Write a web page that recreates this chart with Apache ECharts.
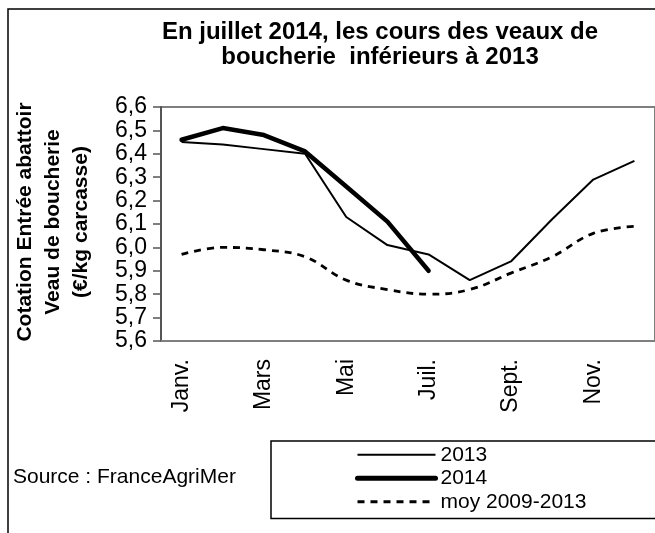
<!DOCTYPE html>
<html>
<head>
<meta charset="utf-8">
<script src="https://cdn.jsdelivr.net/npm/echarts@6/dist/echarts.min.js"></script>
<style>
  html, body { margin: 0; padding: 0; background: #fff; }
  #chart { width: 655px; height: 533px; }
</style>
</head>
<body>
<div id="chart"></div>
<script>
const months = ['Janv.', 'Févr.', 'Mars', 'Avr.', 'Mai', 'Juin', 'Juil.', 'Août', 'Sept.', 'Oct.', 'Nov.', 'Déc.']
const values2013 = [6.45, 6.44, 6.42, 6.40, 6.13, 6.01, 5.97, 5.86, 5.94, 6.12, 6.29, 6.37]
const values2014 = [6.46, 6.51, 6.48, 6.41, 6.26, 6.11, 5.90]
const valuesMoy = [5.97, 6.00, 5.99, 5.96, 5.86, 5.82, 5.80, 5.82, 5.89, 5.96, 6.06, 6.09]

const font = "'Liberation Sans', Arial, sans-serif"

const chart = echarts.init(document.getElementById('chart'))

chart.setOption({
  animation: false,
  textStyle: { fontFamily: font, color: '#000' },
  title: {
    text: 'En juillet 2014, les cours des veaux de\nboucherie  inférieurs à 2013',
    left: 380,
    top: 20,
    textAlign: 'center',
    padding: 0,
    textStyle: { fontFamily: font, fontSize: 24, fontWeight: 'bold', lineHeight: 25, color: '#000' }
  },
  graphic: [
    {
      type: 'rect',
      shape: { x: 8, y: 9, width: 900, height: 700 },
      style: { fill: 'none', stroke: '#000', lineWidth: 1.5 },
      z: -1
    },
    {
      type: 'text',
      x: 53,
      y: 222,
      rotation: Math.PI / 2,
      style: {
        text: 'Cotation Entrée abattoir\nVeau de boucherie\n(€/kg carcasse)',
        font: 'bold 21px ' + font,
        lineHeight: 28,
        align: 'center',
        verticalAlign: 'middle',
        fill: '#000'
      }
    },
    {
      type: 'text',
      x: 13,
      y: 477,
      style: {
        text: 'Source : FranceAgriMer',
        font: '21px ' + font,
        verticalAlign: 'middle',
        fill: '#000'
      }
    }
  ],
  legend: {
    orient: 'vertical',
    left: 271,
    top: 441,
    padding: [2, 400, 5, 84],
    itemWidth: 78,
    itemHeight: 14,
    itemGap: 0,
    borderColor: '#000',
    borderWidth: 1.5,
    itemStyle: { opacity: 0 },
    textStyle: { fontFamily: font, fontSize: 21, lineHeight: 23.5, color: '#000' },
    data: [
      { name: '2013', lineStyle: { width: 2, color: '#000' } },
      { name: '2014', lineStyle: { width: 5, color: '#000', cap: 'round' } },
      { name: 'moy 2009-2013', lineStyle: { width: 3, color: '#000', type: [7, 6] } }
    ]
  },
  grid: {
    left: 161,
    top: 107,
    width: 507,
    height: 234,
    show: true,
    borderColor: '#7f7f7f',
    borderWidth: 2,
    containLabel: false
  },
  xAxis: {
    type: 'category',
    data: months,
    boundaryGap: true,
    axisLine: { lineStyle: { color: '#7f7f7f', width: 2 } },
    axisTick: { interval: 0, length: 7, lineStyle: { color: '#555', width: 1.5 } },
    axisLabel: { interval: 1, rotate: 90, margin: 18, fontSize: 23, color: '#000', fontFamily: font },
    splitLine: { show: false }
  },
  yAxis: {
    type: 'value',
    min: 5.6,
    max: 6.6,
    interval: 0.1,
    axisLine: { show: true, lineStyle: { color: '#555', width: 2 } },
    axisTick: { show: true, length: 8, lineStyle: { color: '#555', width: 1.5 } },
    axisLabel: {
      margin: 14,
      fontSize: 23,
      color: '#000',
      fontFamily: font,
      formatter: v => v.toFixed(1).replace('.', ',')
    },
    splitLine: { show: false }
  },
  series: [
    {
      name: '2013',
      type: 'line',
      data: values2013,
      symbol: 'none',
      lineStyle: { color: '#000', width: 2 },
      itemStyle: { color: '#000' }
    },
    {
      name: '2014',
      type: 'line',
      data: values2014,
      symbol: 'none',
      lineStyle: { color: '#000', width: 4.5, cap: 'round', join: 'round' },
      itemStyle: { color: '#000' }
    },
    {
      name: 'moy 2009-2013',
      type: 'line',
      data: valuesMoy,
      symbol: 'none',
      smooth: 0.4,
      lineStyle: { color: '#000', width: 2.8, type: [7, 6] },
      itemStyle: { color: '#000' }
    }
  ]
})
</script>
</body>
</html>
